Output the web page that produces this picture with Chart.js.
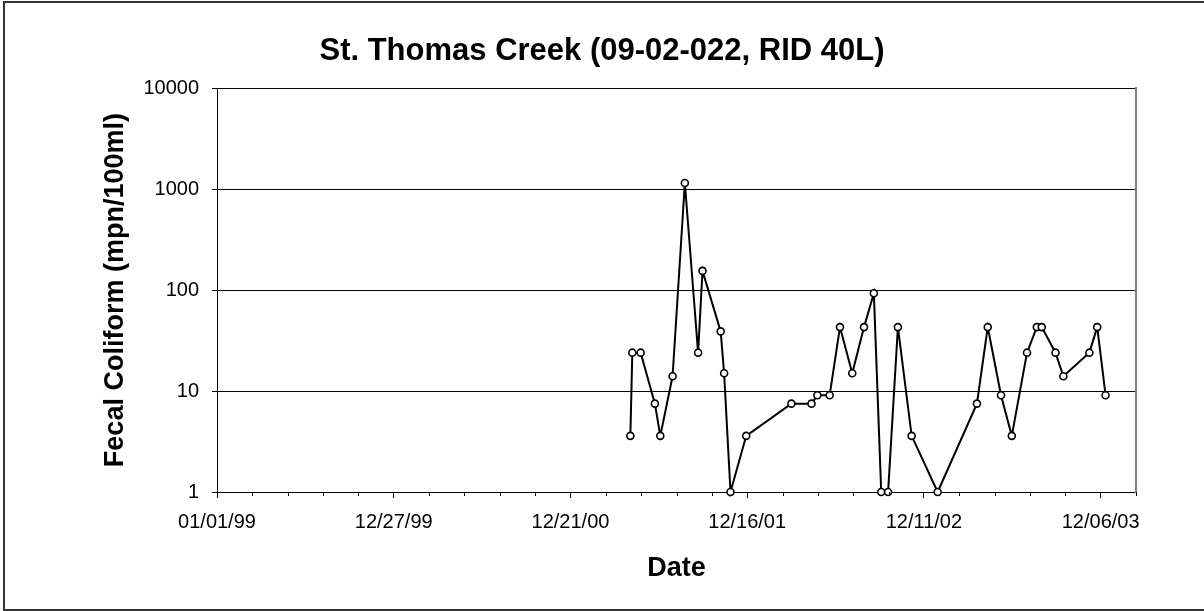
<!DOCTYPE html>
<html>
<head>
<meta charset="utf-8">
<script src="https://cdn.jsdelivr.net/npm/chart.js@4"></script>
<style>
html,body{margin:0;padding:0;background:#fff;}
#wrap{position:relative;width:1204px;height:611px;}
</style>
</head>
<body>
<div id="wrap"><canvas id="c" width="1204" height="611"></canvas></div>
<script>
// ---- data ----
const chartTitle = "St. Thomas Creek (09-02-022, RID 40L)";
const yAxisTitle = "Fecal Coliform (mpn/100ml)";
const xAxisTitle = "Date";
const sampleDates = [
  "2001-04-22","2001-04-26","2001-05-13","2001-06-11","2001-06-22","2001-07-17",
  "2001-08-11","2001-09-07","2001-09-16","2001-10-23","2001-10-30","2001-11-12",
  "2001-12-14","2002-03-16","2002-04-26","2002-05-08","2002-06-02","2002-06-23",
  "2002-07-18","2002-08-11","2002-08-31","2002-09-15","2002-09-29","2002-10-19",
  "2002-11-16","2003-01-08","2003-03-29","2003-04-20","2003-05-17","2003-06-08",
  "2003-07-09","2003-07-29","2003-08-08","2003-09-05","2003-09-21","2003-11-13",
  "2003-11-29","2003-12-16"
];
const fecalColiform = [
  3.6, 24, 24, 7.5, 3.6, 14,
  1150, 24, 155, 39, 15, 1,
  3.6, 7.5, 7.5, 9.1, 9.1, 43,
  15, 43, 93, 1, 1, 43,
  3.6, 1, 7.5, 43, 9.1, 3.6,
  24, 43, 43, 24, 14, 24,
  43, 9.1
];
const yTickValues = [1, 10, 100, 1000, 10000];
const axisStartDate = "1999-01-01";
const axisMaxDays = 1872;     // axis length in days
const majorUnitDays = 360;
const minorUnitDays = 72;

// ---- helpers ----
function dayNum(s){
  const [y,m,d] = s.split("-").map(Number);
  const [y0,m0,d0] = axisStartDate.split("-").map(Number);
  return Math.round((Date.UTC(y,m-1,d) - Date.UTC(y0,m0-1,d0)) / 86400000);
}
function fmtDay(n){
  const [y0,m0,d0] = axisStartDate.split("-").map(Number);
  const dt = new Date(Date.UTC(y0,m0-1,d0) + n*86400000);
  const mm = String(dt.getUTCMonth()+1).padStart(2,"0");
  const dd = String(dt.getUTCDate()).padStart(2,"0");
  const yy = String(dt.getUTCFullYear()%100).padStart(2,"0");
  return mm + "/" + dd + "/" + yy;
}
const points = sampleDates.map((d,i) => ({x: dayNum(d), y: fecalColiform[i]}));

const FONT = "'Liberation Sans', Arial, Helvetica, sans-serif";

const frame = {
  id: 'frame',
  beforeDraw(chart){
    const ctx = chart.ctx;
    ctx.save();
    ctx.fillStyle = '#fff';
    ctx.fillRect(0,0,chart.width,chart.height);
    ctx.strokeStyle = '#333';
    ctx.lineWidth = 2;
    ctx.strokeRect(4, 2, chart.width + 10, chart.height - 3);
    ctx.restore();
  },
  afterDraw(chart){
    // minor tick marks on the date axis
    const xs = chart.scales.x;
    const ctx = chart.ctx;
    ctx.save();
    ctx.strokeStyle = '#000';
    ctx.lineWidth = 1;
    const yb = chart.chartArea.bottom;
    xs.ticks.forEach(t => {
      if (t.value % majorUnitDays !== 0) {
        const px = Math.round(xs.getPixelForValue(t.value)) + 0.5;
        ctx.beginPath();
        ctx.moveTo(px, yb);
        ctx.lineTo(px, yb + 4);
        ctx.stroke();
      }
    });
    ctx.restore();
  }
};

new Chart(document.getElementById('c'), {
  type: 'line',
  data: {
    datasets: [{
      data: points,
      borderColor: '#000',
      borderWidth: 2,
      pointRadius: 3.5,
      pointBackgroundColor: '#fff',
      pointBorderColor: '#000',
      pointBorderWidth: 1.6,
      tension: 0,
      clip: false
    }]
  },
  options: {
    responsive: false,
    animation: false,
    events: [],
    layout: { padding: 0 },
    plugins: {
      legend: { display: false },
      tooltip: { enabled: false },
      title: {
        display: true,
        text: chartTitle,
        color: '#000',
        font: { family: FONT, size: 31, weight: 'bold', lineHeight: 1.2 },
        padding: { top: 33, bottom: 18 }
      }
    },
    scales: {
      x: {
        type: 'linear',
        min: 0,
        max: axisMaxDays,
        afterBuildTicks(scale){
          const t = [];
          for (let v = 0; v <= axisMaxDays; v += minorUnitDays) t.push({value: v});
          scale.ticks = t;
        },
        afterFit(scale){ scale.height = 119; },
        ticks: {
          autoSkip: false,
          maxRotation: 0,
          padding: 12,
          color: '#000',
          font: { family: FONT, size: 20 },
          callback(v){ return v % majorUnitDays === 0 ? fmtDay(v) : ''; }
        },
        grid: {
          drawOnChartArea: false,
          drawTicks: true,
          tickLength: 6,
          tickColor(ctx){ return (ctx.tick && ctx.tick.value % majorUnitDays === 0) ? '#000' : 'rgba(0,0,0,0)'; },
          color: '#000'
        },
        border: { color: '#000', width: 1 },
        title: {
          display: true,
          text: xAxisTitle,
          color: '#000',
          font: { family: FONT, size: 27, weight: 'bold', lineHeight: 1.2 },
          padding: { top: 0, bottom: 26 }
        }
      },
      y: {
        type: 'logarithmic',
        position: 'left',
        min: 1,
        max: 10000,
        afterBuildTicks(scale){ scale.ticks = yTickValues.map(v => ({value: v})); },
        afterFit(scale){ scale.width = 217; },
        ticks: {
          padding: 13,
          color: '#000',
          font: { family: FONT, size: 20 },
          callback(v){ return String(v); }
        },
        grid: {
          color: '#000',
          lineWidth: 1,
          tickLength: 5
        },
        border: { color: '#000', width: 1 },
        title: {
          display: true,
          text: yAxisTitle,
          color: '#000',
          font: { family: FONT, size: 27, weight: 'bold', lineHeight: 1.2 },
          padding: { top: 99, bottom: 0 }
        }
      },
      y2: {
        type: 'logarithmic',
        position: 'right',
        min: 1,
        max: 10000,
        afterFit(scale){ scale.width = 68; },
        ticks: { display: false },
        grid: { drawOnChartArea: false, drawTicks: false },
        border: { color: '#808080', width: 2 }
      }
    }
  },
  plugins: [frame]
});
</script>
</body>
</html>
